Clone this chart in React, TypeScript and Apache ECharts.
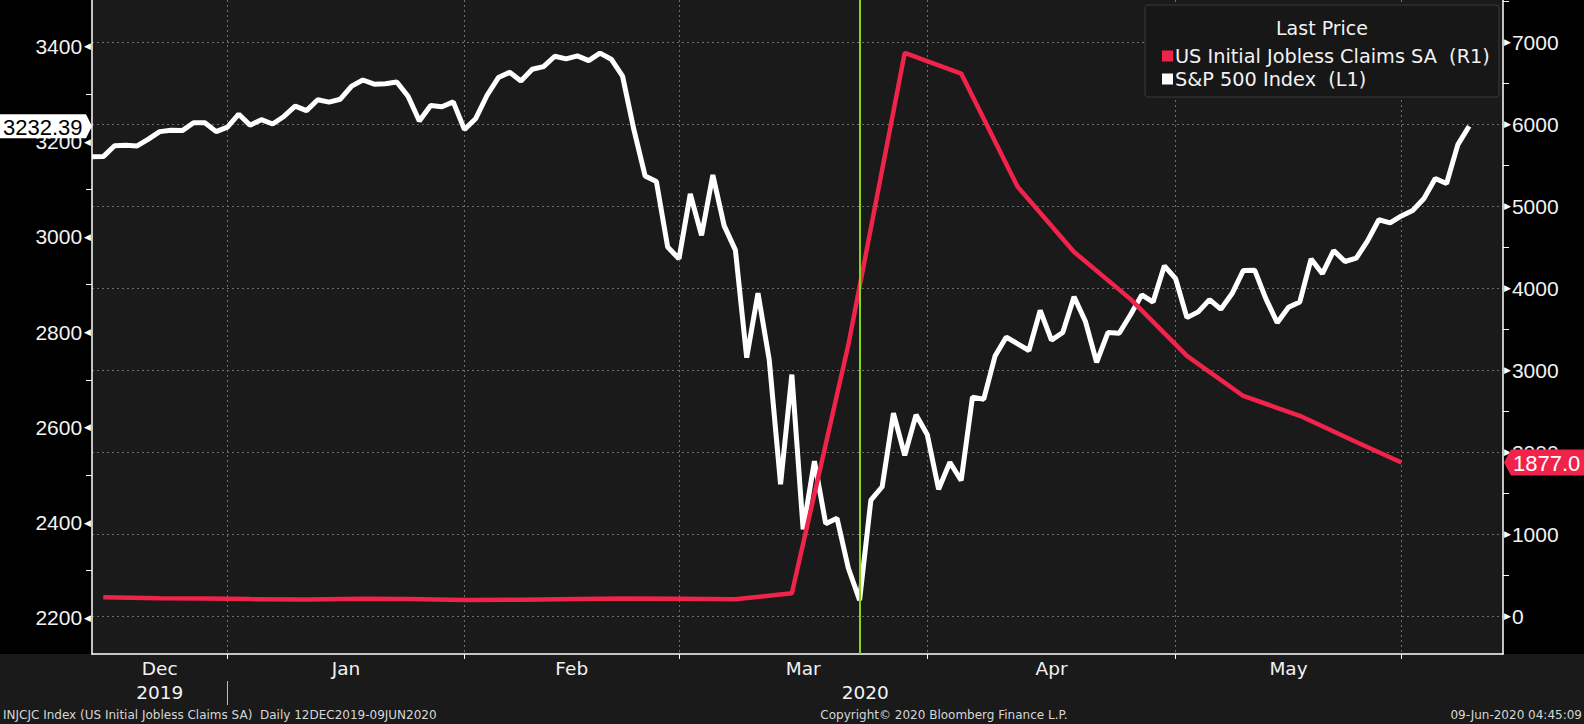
import React, { useEffect, useRef } from "react";
import * as echarts from "echarts";

const FONT = "DejaVu Sans";
const NUM_FONT = "Liberation Sans";

// S&P 500 trading days (day numbers per month)
const dec2019 = [12, 13, 16, 17, 18, 19, 20, 23, 24, 26, 27, 30, 31];
const jan2020 = [2, 3, 6, 7, 8, 9, 10, 13, 14, 15, 16, 17, 21, 22, 23, 24, 27, 28, 29, 30, 31];
const feb2020 = [3, 4, 5, 6, 7, 10, 11, 12, 13, 14, 18, 19, 20, 21, 24, 25, 26, 27, 28];
const mar2020 = [2, 3, 4, 5, 6, 9, 10, 11, 12, 13, 16, 17, 18, 19, 20, 23, 24, 25, 26, 27, 30, 31];
const apr2020 = [1, 2, 3, 6, 7, 8, 9, 13, 14, 15, 16, 17, 20, 21, 22, 23, 24, 27, 28, 29, 30];
const may2020 = [1, 4, 5, 6, 7, 8, 11, 12, 13, 14, 15, 18, 19, 20, 21, 22, 26, 27, 28, 29];
const jun2020 = [1, 2, 3, 4, 5, 8, 9];

const monthNames = ["Dec", "Jan", "Feb", "Mar", "Apr", "May"];
const yearNames = ["2019", "2020"];

// S&P 500 Index daily close (12 Dec 2019 - 08 Jun 2020)
const spxValues = [
  3168.57, 3168.8, 3191.45, 3192.52, 3191.14, 3205.37, 3221.22, 3224.01, 3223.38, 3239.91, 3240.02, 3221.29, 3230.78,
  3257.85, 3234.85, 3246.28, 3237.18, 3253.05, 3274.7, 3265.35, 3288.13, 3283.15, 3289.29, 3316.81, 3329.62, 3320.79,
  3321.75, 3325.54, 3295.47, 3243.63, 3276.24, 3273.4, 3283.66, 3225.52,
  3248.92, 3297.59, 3334.69, 3345.78, 3327.71, 3352.09, 3357.75, 3379.45, 3373.94, 3380.16, 3370.29, 3386.15, 3373.23,
  3337.75, 3225.89, 3128.21, 3116.39, 2978.76, 2954.22,
  3090.23, 3003.37, 3130.12, 3023.94, 2972.37, 2746.56, 2882.23, 2741.38, 2480.64, 2711.02, 2386.13, 2529.19, 2398.1,
  2409.39, 2304.92, 2237.4, 2447.33, 2475.56, 2630.07, 2541.47, 2626.65, 2584.59,
  2470.5, 2526.9, 2488.65, 2663.68, 2659.41, 2749.98, 2789.82, 2761.63, 2846.06, 2783.36, 2799.55, 2874.56, 2823.16,
  2736.56, 2799.31, 2797.8, 2836.74, 2878.48, 2863.39, 2939.51, 2912.43,
  2830.71, 2842.74, 2868.44, 2848.42, 2881.19, 2929.8, 2930.32, 2870.12, 2820.0, 2852.5, 2863.7, 2953.91, 2922.94,
  2971.61, 2948.51, 2955.45, 2991.77, 3036.13, 3029.73, 3044.31,
  3055.73, 3080.82, 3122.87, 3112.35, 3193.93, 3232.39,
];

// US Initial Jobless Claims SA (thousands), dated on the Friday of each week
const claimDates = [
  "2019-12-13", "2019-12-20", "2019-12-27", "2020-01-03", "2020-01-10", "2020-01-17", "2020-01-24",
  "2020-01-31", "2020-02-07", "2020-02-14", "2020-02-21", "2020-02-28", "2020-03-06", "2020-03-13",
  "2020-03-20", "2020-03-27", "2020-04-03", "2020-04-10", "2020-04-17", "2020-04-24", "2020-05-01",
  "2020-05-08", "2020-05-15", "2020-05-22", "2020-05-29",
];
const claimValues = [
  235, 222, 220, 212, 207, 216, 214, 201, 205, 214, 220, 217, 211, 282,
  3307, 6867, 6615, 5237, 4442, 3867, 3176, 2687, 2446, 2126, 1877,
];

const leftTicks = [2200, 2400, 2600, 2800, 3000, 3200, 3400];
const leftMinorTicks = [2300, 2500, 2700, 2900, 3100, 3300];
const rightTicks = [0, 1000, 2000, 3000, 4000, 5000, 6000, 7000];
const rightMinorTicks = [500, 1500, 2500, 3500, 4500, 5500, 6500, 7500];
const markerDate = "2020-03-23";

const SPX_NAME = "S&P 500 Index  (L1)";
const CLAIMS_NAME = "US Initial Jobless Claims SA  (R1)";

const X_MAX = 125;
const LEFT_MIN = 2124.4;
const LEFT_MAX = 3497.6;
const RIGHT_MIN = -457;
const RIGHT_MAX = 7512;

const pad = (n: number) => (n < 10 ? "0" + n : "" + n);
const spxDates: string[] = [];
[
  [2019, 12, dec2019],
  [2020, 1, jan2020],
  [2020, 2, feb2020],
  [2020, 3, mar2020],
  [2020, 4, apr2020],
  [2020, 5, may2020],
  [2020, 6, jun2020],
].forEach(([y, m, days]: any) => {
  (days as number[]).forEach((d) => spxDates.push(`${y}-${pad(m)}-${pad(d)}`));
});

// time axis = union of both securities' dates
const axisDates: string[] = Array.from(new Set([...spxDates, ...claimDates])).sort();
const idxOf = (d: string) => axisDates.indexOf(d);

const monthEnds: number[] = [];
for (let i = 0; i < axisDates.length - 1; i++) {
  if (axisDates[i].slice(5, 7) !== axisDates[i + 1].slice(5, 7)) monthEnds.push(i);
}
const monthBounds = [0, ...monthEnds];
const monthCenters = monthNames.map((_, k) => (monthBounds[k] + monthBounds[k + 1]) / 2);
const yearSep = monthEnds[0];
const yearCenters = [yearSep / 2, (yearSep + X_MAX) / 2];

const spxData = spxValues.map((v, i) => [idxOf(spxDates[i]), v]);
const claimData = claimDates.map((d, i) => [idxOf(d), claimValues[i]]);
const markerIdx = idxOf(markerDate);

const RED = "#f0234b";
const TXT = "#f2f2f2";
const GRID = "#6e6e6e";

const lookup = (vals: number[], names: string[]) => (v: number) => {
  for (let k = 0; k < vals.length; k++) if (Math.abs(vals[k] - v) < 0.01) return names[k];
  return "";
};

export default function App() {
  const ref = useRef<HTMLDivElement>(null);
  useEffect(() => {
    const chart = echarts.init(ref.current!, null, { renderer: "svg" });
    const option: any = {
      animation: false,
      backgroundColor: "transparent",
      textStyle: { fontFamily: FONT },
      grid: {
        left: 92,
        right: 81,
        top: 0,
        bottom: 70,
        show: true,
        backgroundColor: "#1a1a1a",
        borderWidth: 0,
      },
      legend: {
        data: [CLAIMS_NAME, SPX_NAME],
        orient: "vertical",
        left: 1157,
        top: 40,
        itemWidth: 11,
        itemHeight: 11,
        itemGap: 1,
        icon: "rect",
        selectedMode: false,
        z: 20,
        textStyle: { color: TXT, fontSize: 19.3, fontFamily: FONT, lineHeight: 22, padding: [0, 0, 0, -3] },
      },
      xAxis: [
        {
          type: "value",
          min: 0,
          max: X_MAX,
          position: "bottom",
          axisLine: { show: true, onZero: false, lineStyle: { color: "#ffffff", width: 1.5 } },
          axisTick: { show: true, customValues: monthEnds, length: 5, lineStyle: { color: "#ffffff" } },
          axisLabel: {
            customValues: monthCenters,
            formatter: lookup(monthCenters, monthNames),
            color: TXT,
            fontSize: 18.5,
            fontFamily: FONT,
            margin: 5,
          },
          splitLine: { show: true, lineStyle: { color: GRID, width: 1, type: [2, 3] } },
        },
        {
          type: "value",
          min: 0,
          max: X_MAX,
          position: "bottom",
          offset: 27,
          axisLine: { show: false, onZero: false },
          axisTick: { show: true, customValues: [yearSep], length: 24, lineStyle: { color: "#bbbbbb" } },
          axisLabel: {
            customValues: yearCenters,
            formatter: lookup(yearCenters, yearNames),
            color: TXT,
            fontSize: 18.5,
            fontFamily: FONT,
            margin: 2,
          },
          splitLine: { show: false },
        },
      ],
      yAxis: [
        {
          type: "value",
          position: "left",
          min: LEFT_MIN,
          max: LEFT_MAX,
          axisLine: { show: true, onZero: false, lineStyle: { color: "#ffffff", width: 1.5 } },
          axisTick: { show: true, customValues: leftMinorTicks, length: 6, lineStyle: { color: "#ffffff" } },
          axisLabel: {
            customValues: leftTicks,
            margin: 1,
            formatter: (v: number) => `{v|${v}}{t|◀}`,
            rich: {
              v: { color: TXT, fontSize: 21, fontFamily: NUM_FONT, padding: [0, 2, 0, 0] },
              t: { color: "#ffffff", fontSize: 9, fontFamily: FONT },
            },
          },
          splitLine: { show: false },
        },
        {
          type: "value",
          position: "right",
          min: RIGHT_MIN,
          max: RIGHT_MAX,
          axisLine: { show: true, onZero: false, lineStyle: { color: "#ffffff", width: 1.5 } },
          axisTick: { show: false, customValues: rightTicks },
          axisLabel: {
            customValues: rightTicks,
            margin: 1,
            formatter: (v: number) => `{t|▶}{v|${v}}`,
            rich: {
              v: { color: TXT, fontSize: 21, fontFamily: NUM_FONT, padding: [0, 0, 0, 1] },
              t: { color: "#ffffff", fontSize: 9, fontFamily: FONT },
            },
          },
          splitLine: { show: true, lineStyle: { color: GRID, width: 1, type: [2, 3] } },
        },
        {
          type: "value",
          position: "right",
          min: RIGHT_MIN,
          max: RIGHT_MAX,
          axisLine: { show: false, onZero: false },
          axisTick: { show: true, customValues: rightMinorTicks, length: 6, lineStyle: { color: "#ffffff" } },
          axisLabel: { show: false },
          splitLine: { show: false },
        },
      ],
      series: [
        {
          name: SPX_NAME,
          type: "line",
          xAxisIndex: 0,
          yAxisIndex: 0,
          data: spxData,
          symbol: "none",
          z: 3,
          itemStyle: { color: "#ffffff" },
          lineStyle: { color: "#ffffff", width: 5 },
          markLine: {
            silent: true,
            symbol: "none",
            label: { show: false },
            lineStyle: { color: "#84d41c", width: 2, type: "solid" },
            data: [{ xAxis: markerIdx }],
          },
        },
        {
          name: CLAIMS_NAME,
          type: "line",
          xAxisIndex: 0,
          yAxisIndex: 1,
          data: claimData,
          symbol: "none",
          z: 4,
          itemStyle: { color: RED },
          lineStyle: { color: RED, width: 4.5 },
        },
      ],
    };
    chart.setOption(option);

    const lastSpx = spxValues[spxValues.length - 1];
    const lastClaims = claimValues[claimValues.length - 1];
    const yL = chart.convertToPixel({ yAxisIndex: 0 } as any, lastSpx) as number;
    const yR = chart.convertToPixel({ yAxisIndex: 1 } as any, lastClaims) as number;
    const footFont = `12px "${FONT}"`;

    chart.setOption({
      graphic: [
        {
          type: "rect",
          z: 10,
          shape: { x: 1145, y: 5, width: 354, height: 92, r: 3 },
          style: { fill: "#171717", stroke: "#3a3a3a", lineWidth: 1 },
        },
        {
          type: "text",
          z: 11,
          x: 1322,
          y: 28,
          style: {
            text: "Last Price",
            fill: TXT,
            font: `19px "${FONT}"`,
            textAlign: "center",
            textVerticalAlign: "middle",
          },
        },
        {
          type: "polygon",
          z: 12,
          shape: { points: [[0, yL - 12], [86, yL - 12], [92, yL], [86, yL + 12], [0, yL + 12]] },
          style: { fill: "#ffffff" },
        },
        {
          type: "text",
          z: 13,
          x: 3,
          y: yL + 1,
          style: {
            text: lastSpx.toFixed(2),
            fill: "#000000",
            font: `22px "${NUM_FONT}"`,
            textAlign: "left",
            textVerticalAlign: "middle",
          },
        },
        {
          type: "polygon",
          z: 12,
          shape: { points: [[1504, yR], [1511, yR - 13], [1584, yR - 13], [1584, yR + 13], [1511, yR + 13]] },
          style: { fill: RED },
        },
        {
          type: "text",
          z: 13,
          x: 1513,
          y: yR + 1,
          style: {
            text: lastClaims.toFixed(1),
            fill: "#ffffff",
            font: `22px "${NUM_FONT}"`,
            textAlign: "left",
            textVerticalAlign: "middle",
          },
        },
        {
          type: "text",
          x: 3,
          y: 715,
          style: {
            text: "INJCJC Index (US Initial Jobless Claims SA)  Daily 12DEC2019-09JUN2020",
            fill: "#d6d6d6",
            font: footFont,
            textAlign: "left",
            textVerticalAlign: "middle",
          },
        },
        {
          type: "text",
          x: 944,
          y: 715,
          style: {
            text: "Copyright© 2020 Bloomberg Finance L.P.",
            fill: "#d6d6d6",
            font: footFont,
            textAlign: "center",
            textVerticalAlign: "middle",
          },
        },
        {
          type: "text",
          x: 1582,
          y: 715,
          style: {
            text: "09-Jun-2020 04:45:09",
            fill: "#d6d6d6",
            font: footFont,
            textAlign: "right",
            textVerticalAlign: "middle",
          },
        },
      ],
    });

    return () => chart.dispose();
  }, []);

  return (
    <div style={{ position: "fixed", left: 0, top: 0, width: 1584, height: 724, background: "#1a1a1a" }}>
      <div style={{ position: "absolute", left: 0, top: 0, width: 1584, height: 654, background: "#000000" }} />
      <div ref={ref} style={{ position: "absolute", left: 0, top: 0, width: 1584, height: 724 }} />
    </div>
  );
}
